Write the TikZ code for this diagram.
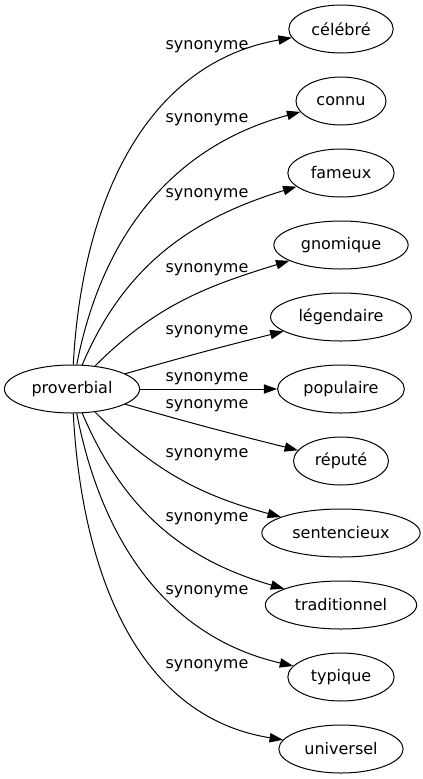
\documentclass[tikz,border=0pt]{standalone}
\usepackage{fontspec}
\setmainfont{DejaVu Sans}
\usetikzlibrary{shapes.geometric,arrows.meta}

\begin{document}
\begin{tikzpicture}[x=0.75pt,y=0.75pt,
    word/.style={draw,ellipse,line width=0.75pt,minimum height=36pt,inner xsep=5.5pt,inner ysep=2pt,font=\fontsize{12}{14}\selectfont},
    syn/.style={-{Triangle[length=10pt,width=7pt]},line width=0.75pt},
    lab/.style={inner sep=0pt,font=\fontsize{12}{14}\selectfont}] % synonymes de proverbial
    \useasboundingbox (0,0) rectangle (422,-779);
    \node[word] (pv) at (72,-389) {proverbial};
    \node[word] (celebre) at (341,-29) {célébré};
    \node[word] (connu) at (341,-101) {connu};
    \node[word] (fameux) at (341,-173) {fameux};
    \node[word] (gnomique) at (341,-245) {gnomique};
    \node[word] (legendaire) at (341,-317) {légendaire};
    \node[word] (populaire) at (341,-389) {populaire};
    \node[word] (repute) at (341,-461) {réputé};
    \node[word] (sentencieux) at (341,-533) {sentencieux};
    \node[word] (traditionnel) at (341,-605) {traditionnel};
    \node[word] (typique) at (341,-677) {typique};
    \node[word] (universel) at (341,-749) {universel};
    \draw[syn] (pv) to[out=87,in=190] (celebre);
    \draw[syn] (pv) to[out=79,in=195] (connu);
    \draw[syn] (pv) to[out=67,in=197] (fameux);
    \draw[syn] (pv) to[out=45,in=197] (gnomique);
    \draw[syn] (pv) to[out=16,in=194] (legendaire);
    \draw[syn] (pv) -- (populaire);
    \draw[syn] (pv) to[out=-16,in=166] (repute);
    \draw[syn] (pv) to[out=-45,in=165] (sentencieux);
    \draw[syn] (pv) to[out=-67,in=164] (traditionnel);
    \draw[syn] (pv) to[out=-79,in=167] (typique);
    \draw[syn] (pv) to[out=-87,in=171] (universel);
    \node[lab] (l1) at (207,-47) {synonyme};
    \node[lab] (l2) at (207,-120) {synonyme};
    \node[lab] (l3) at (207,-195) {synonyme};
    \node[lab] (l4) at (207,-270) {synonyme};
    \node[lab] (l5) at (207,-332) {synonyme};
    \node[lab] (l6) at (207,-379) {synonyme};
    \node[lab] (l7) at (207,-406) {synonyme};
    \node[lab] (l8) at (207,-455) {synonyme};
    \node[lab] (l9) at (207,-519) {synonyme};
    \node[lab] (l10) at (207,-592) {synonyme};
    \node[lab] (l11) at (207,-666) {synonyme};
\end{tikzpicture}
\end{document}
